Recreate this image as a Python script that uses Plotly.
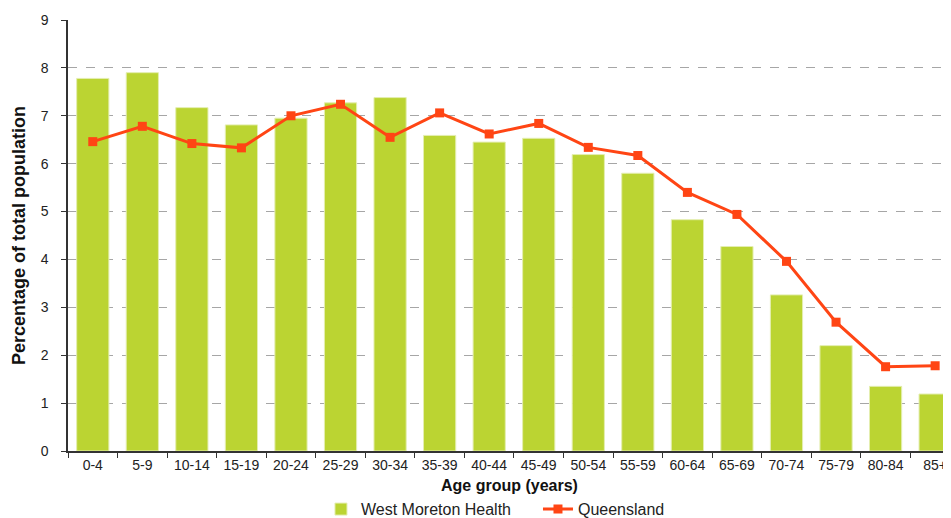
import plotly.graph_objects as go

age_groups = ["0-4", "5-9", "10-14", "15-19", "20-24", "25-29", "30-34", "35-39", "40-44",
              "45-49", "50-54", "55-59", "60-64", "65-69", "70-74", "75-79", "80-84", "85+"]
west_moreton = [7.78, 7.90, 7.17, 6.81, 6.95, 7.27, 7.38, 6.59, 6.45,
                6.53, 6.19, 5.80, 4.83, 4.27, 3.26, 2.20, 1.35, 1.19]
queensland = [6.46, 6.78, 6.42, 6.33, 7.00, 7.24, 6.55, 7.06, 6.62,
              6.84, 6.34, 6.17, 5.40, 4.94, 3.96, 2.69, 1.76, 1.78]

bar_color = "#BBD432"
line_color = "#FF4514"
font_family = "Liberation Sans, Arial, sans-serif"

fig = go.Figure()
fig.add_trace(go.Bar(
    x=age_groups, y=west_moreton, name="West Moreton Health",
    marker=dict(color=bar_color, line=dict(color="#E4EEB0", width=1)),
))
fig.add_trace(go.Scatter(
    x=age_groups, y=queensland, name="Queensland", mode="lines+markers",
    line=dict(color=line_color, width=3),
    marker=dict(symbol="square", size=9, color=line_color),
))

# page body has an 8px margin, so the figure is sized to fit the 951x518 window
fig.update_layout(
    width=943, height=510,
    margin=dict(l=60, r=0, t=12, b=67, autoexpand=False),
    plot_bgcolor="white", paper_bgcolor="white",
    font=dict(family=font_family, size=13, color="#222"),
    bargap=0.35,
    showlegend=True,
    legend=dict(orientation="h", x=0.2865, xanchor="left", y=-0.135, yanchor="middle",
                font=dict(size=16, color="#222"), itemwidth=30, entrywidth=172,
                bgcolor="rgba(0,0,0,0)"),
    xaxis=dict(
        type="category", range=[-0.5, 17.32], automargin=False,
        showline=True, linecolor="#333", linewidth=1.5,
        ticks="outside", tickson="boundaries", ticklen=5, tickcolor="#333",
        showgrid=False,
        title=dict(text="<b>Age group (years)</b>", font=dict(size=16, color="#111"), standoff=8),
        tickfont=dict(size=14, color="#222"),
    ),
    yaxis=dict(
        range=[0, 9], dtick=1, automargin=False,
        showline=True, linecolor="#333", linewidth=1.5,
        ticks="outside", ticklen=5, tickcolor="#333", ticklabelstandoff=10,
        showgrid=True, gridcolor="#A6A6A6", griddash="dash", gridwidth=1,
        zeroline=False,
        title=dict(text="<b>Percentage of total population</b>", font=dict(size=18, color="#111"), standoff=10),
        tickfont=dict(size=14, color="#222"),
    ),
)

fig.write_html(
    "out.html",
    post_script="document.documentElement.style.overflow='hidden';",
)
